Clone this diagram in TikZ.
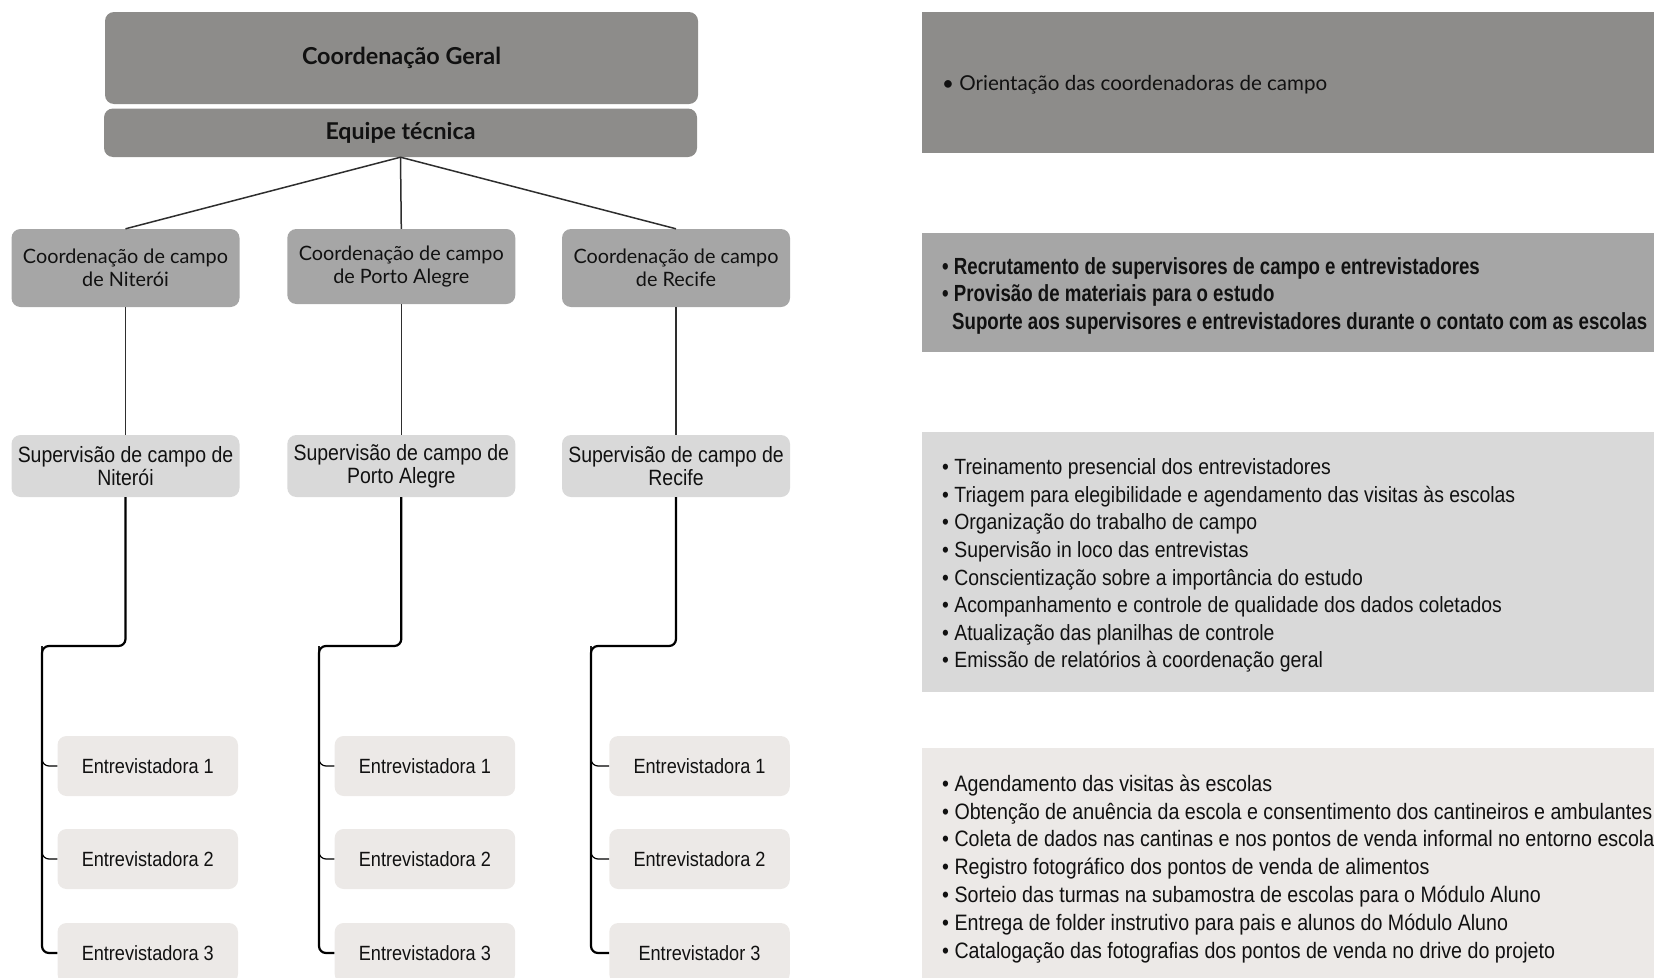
\documentclass[tikz,border=0pt]{standalone}
\usepackage{fontspec}
\setmainfont{Liberation Sans}
\newfontfamily\fLato{Lato}
\newfontfamily\fGrot[FakeStretch=0.88]{Liberation Sans}
\newfontfamily\fNarrow[FakeStretch=0.80]{Liberation Sans}
\usetikzlibrary{calc}
\definecolor{cA}{HTML}{8D8C8A}
\definecolor{cB}{HTML}{A6A6A6}
\definecolor{cC}{HTML}{D9D9D9}
\definecolor{cD}{HTML}{ECE9E7}
\definecolor{lineC}{HTML}{2E2E2E}
\definecolor{txt}{HTML}{111111}
\newlength\fitlen
\newsavebox\fitbox
\newcommand\setfit[4]{\sbox\fitbox{#2\fontsize{10pt}{12pt}\selectfont #4}\fitlen=\wd\fitbox\relax\pgfmathsetmacro\fittmp{10*#3/\fitlen}\global\let#1\fittmp}
\AtBeginDocument{%
\setfit\szCG{\fLato\bfseries}{199}{Coordenação Geral}%
\setfit\szET{\fLato\bfseries}{150}{Equipe técnica}%
\setfit\szCo{\fLato}{205}{Coordenação de campo}%
\setfit\szSu{\fGrot}{215.5}{Supervisão de campo de}%
\setfit\szEn{\fGrot}{132}{Entrevistadora 1}%
\setfit\szPa{\fLato}{385}{• Orientação das coordenadoras de campo}%
\setfit\szPb{\fNarrow\bfseries}{695}{Suporte aos supervisores e entrevistadores durante o contato com as escolas}%
\setfit\szPc{\fGrot}{573}{• Triagem para elegibilidade e agendamento das visitas às escolas}%
\setfit\szPd{\fGrot}{710}{• Obtenção de anuência da escola e consentimento dos cantineiros e ambulantes}%
}
\begin{document}
\begin{tikzpicture}[x=1pt,y=-1pt,
  box/.style={rounded corners=9pt, inner sep=0pt, align=center, text=txt},
  cgbox/.style={box, fill=cA, minimum width=593pt, font=\fLato\bfseries\fontsize{\szCG pt}{26pt}\selectfont},
  etbox/.style={box, fill=cA, minimum width=593pt, minimum height=48.5pt, font=\fLato\bfseries\fontsize{\szET pt}{22pt}\selectfont},
  coordbox/.style={box, fill=cB, minimum width=228pt, font=\fLato\fontsize{\szCo pt}{23pt}\selectfont},
  supbox/.style={box, fill=cC, minimum width=228pt, minimum height=62pt, font=\fGrot\fontsize{\szSu pt}{23pt}\selectfont},
  entbox/.style={box, fill=cD, minimum width=180.5pt, minimum height=60pt, font=\fGrot\fontsize{\szEn pt}{20pt}\selectfont},
  panel/.style={inner sep=0pt, anchor=north west, minimum width=740pt},
  ptext/.style={anchor=base west, inner sep=0pt, text=txt},
  pa/.style={ptext, font=\fLato\fontsize{\szPa pt}{20pt}\selectfont},
  pb/.style={ptext, font=\fNarrow\bfseries\fontsize{\szPb pt}{20pt}\selectfont},
  pc/.style={ptext, font=\fGrot\fontsize{\szPc pt}{20pt}\selectfont},
  pd/.style={ptext, font=\fGrot\fontsize{\szPd pt}{20pt}\selectfont},
  conn/.style={draw=lineC, line width=1.5pt},
  vconn/.style={draw=lineC, line width=1.3pt},
  trunk/.style={draw=black, line width=2.2pt, rounded corners=7pt},
  branch/.style={draw=black, line width=1.2pt, rounded corners=7pt}]
\useasboundingbox (0,0) rectangle (1654,977);
\clip (0,0) rectangle (1654,977);

% ---------- left chart ----------
\node[cgbox, minimum height=92pt] (cg) at (401.5,58) {Coordenação Geral};
\node[etbox] (et) at (400.5,132.75) {Equipe técnica};

\node[coordbox, minimum height=78pt] (c1) at (125.5,268) {Coordenação de campo\\de Niterói};
\node[coordbox, minimum height=75pt] (c2) at (401.3,266.5) {Coordenação de campo\\de Porto Alegre};
\node[coordbox, minimum height=78pt] (c3) at (676,268) {Coordenação de campo\\de Recife};

\node[supbox] (s1) at (125.5,466) {Supervisão de campo de\\Niterói};
\node[supbox] (s2) at (401.3,466) {Supervisão de campo de\\Porto Alegre};
\node[supbox] (s3) at (676,466) {Supervisão de campo de\\Recife};

\node[entbox] (e11) at (147.75,766) {Entrevistadora 1};
\node[entbox] (e12) at (147.75,859) {Entrevistadora 2};
\node[entbox] (e13) at (147.75,953) {Entrevistadora 3};
\node[entbox] (e21) at (424.9,766) {Entrevistadora 1};
\node[entbox] (e22) at (424.9,859) {Entrevistadora 2};
\node[entbox] (e23) at (424.9,953) {Entrevistadora 3};
\node[entbox] (e31) at (699.5,766) {Entrevistadora 1};
\node[entbox] (e32) at (699.5,859) {Entrevistadora 2};
\node[entbox] (e33) at (699.5,953) {Entrevistador 3};

\draw[conn] (et.south) -- (c1.north);
\draw[conn] (et.south) -- (c2.north);
\draw[conn] (et.south) -- (c3.north);

\draw[vconn] (c1.south) -- (s1.north);
\draw[vconn] (c2.south) -- (s2.north);
\draw[vconn] (c3.south) -- (s3.north);

\coordinate (j1) at (42,646);
\coordinate (j2) at (319,646);
\coordinate (j3) at (591,646);

\draw[trunk] (s1.south) -- (s1.south |- j1) -- (j1) |- (e13.west);
\draw[trunk] (s2.south) -- (s2.south |- j2) -- (j2) |- (e23.west);
\draw[trunk] (s3.south) -- (s3.south |- j3) -- (j3) |- (e33.west);

\draw[branch] (j1) |- (e11.west);
\draw[branch] (j1) |- (e12.west);
\draw[branch] (j2) |- (e21.west);
\draw[branch] (j2) |- (e22.west);
\draw[branch] (j3) |- (e31.west);
\draw[branch] (j3) |- (e32.west);

% ---------- right panels ----------
\node[panel, fill=cA, minimum height=141pt] (p1) at (922,12) {};
\node[panel, fill=cB, minimum height=119pt] (p2) at (922,233) {};
\node[panel, fill=cC, minimum height=260pt] (p3) at (922,432) {};
\node[panel, fill=cD, minimum height=250pt] (p4) at (922,748) {};

\node[pa] (p1l0) at (942,{83+0.36*\szPa}) {• Orientação das coordenadoras de campo};

\node[pb] (p2l0) at (942,{265.7+0.36*\szPb}) {• Recrutamento de supervisores de campo e entrevistadores};
\node[pb] (p2l1) at (942,{293.5+0.36*\szPb}) {• Provisão de materiais para o estudo};
\node[pb] (p2l2) at (952,{321.5+0.36*\szPb}) {Suporte aos supervisores e entrevistadores durante o contato com as escolas};

\foreach \t [count=\i from 0] in {%
  • Treinamento presencial dos entrevistadores,
  • Triagem para elegibilidade e agendamento das visitas às escolas,
  • Organização do trabalho de campo,
  • Supervisão in loco das entrevistas,
  • Conscientização sobre a importância do estudo,
  • Acompanhamento e controle de qualidade dos dados coletados,
  • Atualização das planilhas de controle,
  • Emissão de relatórios à coordenação geral}
  \node[pc] (p3l\i) at (942,{466.7+27.6*\i+0.36*\szPc}) {\t};

\foreach \t [count=\i from 0] in {%
  • Agendamento das visitas às escolas,
  • Obtenção de anuência da escola e consentimento dos cantineiros e ambulantes,
  • Coleta de dados nas cantinas e nos pontos de venda informal no entorno escolar,
  • Registro fotográfico dos pontos de venda de alimentos,
  • Sorteio das turmas na subamostra de escolas para o Módulo Aluno,
  • Entrega de folder instrutivo para pais e alunos do Módulo Aluno,
  • Catalogação das fotografias dos pontos de venda no drive do projeto}
  \node[pd] (p4l\i) at (942,{783.3+27.8*\i+0.36*\szPd}) {\t};
\end{tikzpicture}
\end{document}
